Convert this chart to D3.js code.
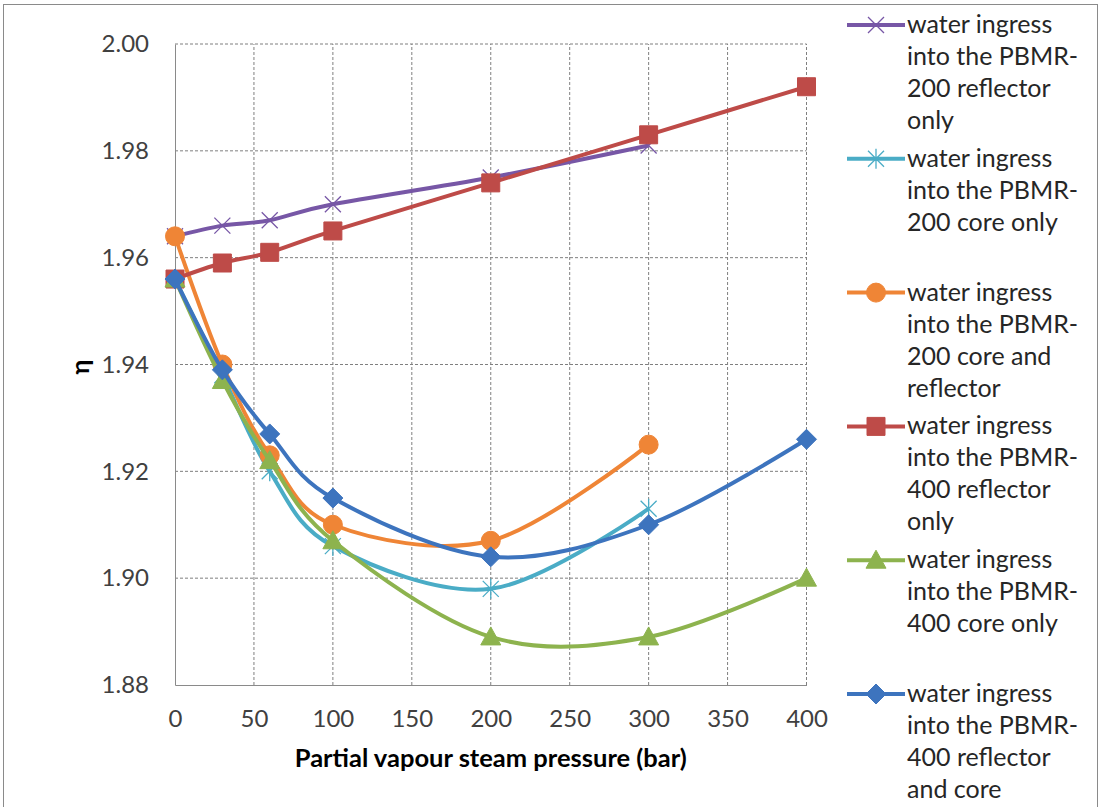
<!DOCTYPE html>
<html>
<head>
<meta charset="utf-8">
<script src="https://cdn.jsdelivr.net/npm/d3@7"></script>
<style>
  body { margin: 0; background: #ffffff; }
  text { font-family: Lato, "Open Sans", sans-serif; }
</style>
</head>
<body>
<div id="chart"></div>
<script>
// pressure points (bar)
var pressure200 = [0, 30, 60, 100, 200, 300];
var pressure400 = [0, 30, 60, 100, 200, 300, 400];

// eta values
var reflector200 = [1.964, 1.966, 1.967, 1.970, 1.975, 1.981];
var core200 = [1.956, 1.938, 1.920, 1.906, 1.898, 1.913];
var coreReflector200 = [1.964, 1.940, 1.923, 1.910, 1.907, 1.925];
var reflector400 = [1.956, 1.959, 1.961, 1.965, 1.974, 1.983, 1.992];
var core400 = [1.956, 1.937, 1.922, 1.907, 1.889, 1.889, 1.900];
var reflectorCore400 = [1.956, 1.939, 1.927, 1.915, 1.904, 1.910, 1.926];

var seriesNames = [
  "water ingress\ninto the PBMR-\n200 reflector\nonly",
  "water ingress\ninto the PBMR-\n200 core only",
  "water ingress\ninto the PBMR-\n200 core and\nreflector",
  "water ingress\ninto the PBMR-\n400 reflector\nonly",
  "water ingress\ninto the PBMR-\n400 core only",
  "water ingress\ninto the PBMR-\n400 reflector\nand core"
];

var xTicks = [0, 50, 100, 150, 200, 250, 300, 350, 400];
var yTicks = [1.88, 1.90, 1.92, 1.94, 1.96, 1.98, 2.00];

var colors = ["#7757a6", "#4aacc6", "#ef8536", "#be4b48", "#8db34e", "#3d74be"];
var markers = ["x", "star", "circle", "square", "triangle", "diamond"];

var series = [
  { xs: pressure200, ys: reflector200 },
  { xs: pressure200, ys: core200 },
  { xs: pressure200, ys: coreReflector200 },
  { xs: pressure400, ys: reflector400 },
  { xs: pressure400, ys: core400 },
  { xs: pressure400, ys: reflectorCore400 }
].map(function(s, i) {
  return {
    name: seriesNames[i],
    color: colors[i],
    marker: markers[i],
    points: s.xs.map(function(x, j) { return { x: x, y: s.ys[j] }; })
  };
});

var svgWidth = 1101;
var svgHeight = 807;
var margin = { top: 44, right: 295, bottom: 122, left: 175 };

var svg = d3.select("#chart")
  .append("svg")
  .attr("width", svgWidth)
  .attr("height", svgHeight);

// outer chart frame
svg.append("rect")
  .attr("x", 3.5)
  .attr("y", 4.5)
  .attr("width", 1094)
  .attr("height", 900)
  .attr("fill", "none")
  .attr("stroke", "#8a8a8a");

var xScale = d3.scaleLinear()
  .domain([0, 400])
  .range([margin.left, svgWidth - margin.right + 0.5]);

var yScale = d3.scaleLinear()
  .domain([1.88, 2.00])
  .range([svgHeight - margin.bottom, margin.top]);

// dashed gridlines
svg.append("g")
  .selectAll("line")
  .data(xTicks.slice(1))
  .enter()
  .append("line")
  .attr("x1", d => xScale(d))
  .attr("x2", d => xScale(d))
  .attr("y1", yScale(1.88))
  .attr("y2", yScale(2.00))
  .attr("stroke", "#7f7f7f")
  .attr("stroke-dasharray", "3,2");

svg.append("g")
  .selectAll("line")
  .data(yTicks.slice(1))
  .enter()
  .append("line")
  .attr("x1", xScale(0))
  .attr("x2", xScale(400))
  .attr("y1", d => yScale(d))
  .attr("y2", d => yScale(d))
  .attr("stroke", "#7f7f7f")
  .attr("stroke-dasharray", "3,2");

// axes
var leftAxis = d3.axisLeft(yScale)
  .tickValues(yTicks)
  .tickFormat(d3.format(".2f"))
  .tickSize(0)
  .tickPadding(26);

var bottomAxis = d3.axisBottom(xScale)
  .tickValues(xTicks)
  .tickSize(0)
  .tickPadding(25);

svg.append("g")
  .attr("transform", `translate(${xScale(0)}, 0)`)
  .call(leftAxis)
  .call(g => g.select(".domain").attr("stroke", "#8a8a8a"))
  .selectAll("text")
  .style("font-size", "24px")
  .attr("fill", "#404040");

svg.append("g")
  .attr("transform", `translate(0, ${yScale(1.88)})`)
  .call(bottomAxis)
  .call(g => g.select(".domain").attr("stroke", "#8a8a8a"))
  .selectAll("text")
  .style("font-size", "24px")
  .attr("fill", "#404040");

// axis titles
svg.append("text")
  .attr("x", (xScale(0) + xScale(400)) / 2)
  .attr("y", 767)
  .attr("text-anchor", "middle")
  .style("font-size", "25.5px")
  .style("font-weight", "bold")
  .attr("fill", "#000")
  .text("Partial vapour steam pressure (bar)");

svg.append("text")
  .attr("transform", "translate(89, 367) rotate(-90)")
  .attr("text-anchor", "middle")
  .style("font-size", "25px")
  .style("font-weight", "bold")
  .attr("fill", "#000")
  .text("η");

// marker shapes
function markerPath(type) {
  if (type == "x") return "M-8,-8L8,8M-8,8L8,-8";
  if (type == "star") return "M-8,-8L8,8M-8,8L8,-8M0,-10L0,10";
  if (type == "circle") return "M-9.5,0A9.5,9.5 0 1,0 9.5,0A9.5,9.5 0 1,0 -9.5,0Z";
  if (type == "square") return "M-9,-9H9V9H-9Z";
  if (type == "triangle") return "M0,-10L10,8H-10Z";
  return "M0,-10L10,0L0,10L-10,0Z";
}

function drawMarker(g, type, color) {
  var stroked = (type == "x" || type == "star");
  g.append("path")
    .attr("d", markerPath(type))
    .attr("fill", stroked ? "none" : color)
    .attr("stroke", color)
    .attr("stroke-width", stroked ? 1.3 : 1);
}

var line = d3.line()
  .x(d => xScale(d.x))
  .y(d => yScale(d.y))
  .curve(d3.curveCardinal.tension(0));

// series lines and markers
series.forEach(function(s) {
  var g = svg.append("g");
  g.append("path")
    .datum(s.points)
    .attr("d", line)
    .attr("fill", "none")
    .attr("stroke", s.color)
    .attr("stroke-width", 4)
    .attr("stroke-linejoin", "round");

  s.points.forEach(function(p) {
    var m = g.append("g")
      .attr("transform", `translate(${xScale(p.x)}, ${yScale(p.y)})`);
    drawMarker(m, s.marker, s.color);
  });
});

// legend
var legendY = d3.scaleLinear()
  .domain([0, 5])
  .range([33, 702]);

series.forEach(function(s, i) {
  var base = legendY(i);
  var g = svg.append("g");
  g.append("line")
    .attr("x1", 847)
    .attr("x2", 905)
    .attr("y1", base - 8)
    .attr("y2", base - 8)
    .attr("stroke", s.color)
    .attr("stroke-width", 4);
  var m = g.append("g")
    .attr("transform", `translate(876, ${base - 8})`);
  drawMarker(m, s.marker, s.color);

  var t = g.append("text")
    .attr("x", 907)
    .attr("y", base)
    .style("font-size", "25px")
    .attr("fill", "#262626");
  s.name.split("\n").forEach(function(l, k) {
    t.append("tspan")
      .attr("x", 907)
      .attr("dy", k == 0 ? 0 : 32)
      .text(l);
  });
});
</script>
</body>
</html>
